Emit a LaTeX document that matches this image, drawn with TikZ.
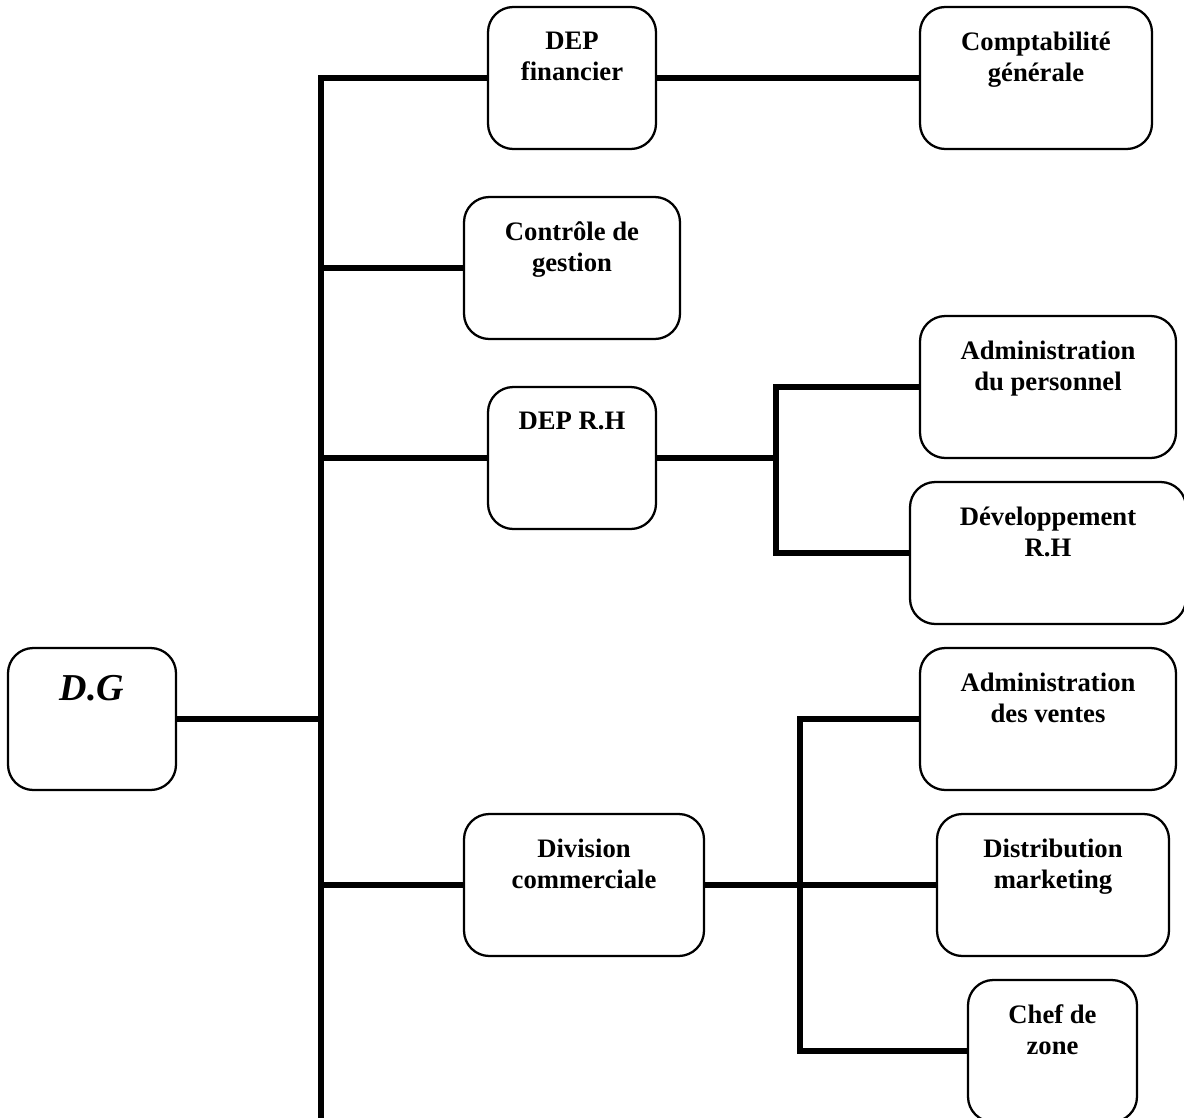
\documentclass[tikz,border=0pt]{standalone}
\usepackage{fontspec}
\setmainfont{Liberation Serif}
\usetikzlibrary{backgrounds}
\begin{document}
\begin{tikzpicture}[x=0.75pt,y=-0.75pt,
  box/.style={draw=black,line width=1.7pt,rounded corners=19pt,minimum height=142*0.75pt,inner sep=0pt,fill=white},
  lbl/.style={anchor=north,inner sep=0pt,align=center,font=\fontsize{20}{23.25}\selectfont\bfseries},
  conn/.style={line width=4.2pt,line cap=butt,line join=miter}]
\clip (0,0) rectangle (1184,1117);
\coordinate (trunkTop) at (321,78);
\coordinate (trunkBot) at (321,1140);
\coordinate (rhJ) at (776,458);
\coordinate (comJ) at (800,885);
% boxes
\node[box,minimum width=168*0.75pt] (dg) at (92,719) {};
\node[box,minimum width=168*0.75pt] (fin) at (572,78) {};
\node[box,minimum width=232*0.75pt] (compta) at (1036,78) {};
\node[box,minimum width=216*0.75pt] (ctrl) at (572,268) {};
\node[box,minimum width=168*0.75pt] (rh) at (572,458) {};
\node[box,minimum width=256*0.75pt] (adp) at (1048,387) {};
\node[box,minimum width=276*0.75pt] (dev) at (1048,553) {};
\node[box,minimum width=256*0.75pt] (adv) at (1048,719) {};
\node[box,minimum width=240*0.75pt] (com) at (584,885) {};
\node[box,minimum width=232*0.75pt] (dist) at (1053,885) {};
\node[box,minimum width=169*0.75pt] (chef) at (1052.5,1051) {};
% connectors
\begin{scope}[on background layer]
\fill[white] (0,0) rectangle (1184,1117);
\draw[conn] (fin.west) -| (trunkBot);
\draw[conn] (fin.east) -- (compta.west);
\draw[conn] (ctrl.west) -- (ctrl.west -| trunkTop);
\draw[conn] (rh.west) -- (rh.west -| trunkTop);
\draw[conn] (dg.east) -- (dg.east -| trunkTop);
\draw[conn] (com.west) -- (com.west -| trunkTop);
\draw[conn] (rh.east) -- (rhJ);
\draw[conn] (adp.west) -| (rhJ) |- (dev.west);
\draw[conn] (com.east) -- (dist.west);
\draw[conn] (adv.west) -| (comJ) |- (chef.west);
\end{scope}
% labels
\node[anchor=north,inner sep=0pt,font=\fontsize{28.5}{32}\selectfont\bfseries\itshape] (dgl) at ([yshift=-28.5*0.75pt]dg.north) {D.G};
\node[lbl] (finl) at ([yshift=-25.5*0.75pt]fin.north) {DEP\\financier};
\node[lbl] (comptal) at ([yshift=-25.5*0.75pt]compta.north) {Comptabilité\\générale};
\node[lbl] (ctrll) at ([yshift=-25.5*0.75pt]ctrl.north) {Contrôle de\\gestion};
\node[lbl] (rhl) at ([yshift=-25.5*0.75pt]rh.north) {DEP R.H};
\node[lbl] (adpl) at ([yshift=-25.5*0.75pt]adp.north) {Administration\\du personnel};
\node[lbl] (devl) at ([yshift=-25.5*0.75pt]dev.north) {Développement\\R.H};
\node[lbl] (advl) at ([yshift=-25.5*0.75pt]adv.north) {Administration\\des ventes};
\node[lbl] (coml) at ([yshift=-25.5*0.75pt]com.north) {Division\\commerciale};
\node[lbl] (distl) at ([yshift=-25.5*0.75pt]dist.north) {Distribution\\marketing};
\node[lbl] (chefl) at ([yshift=-25.5*0.75pt]chef.north) {Chef de\\zone};
\end{tikzpicture}
\end{document}
